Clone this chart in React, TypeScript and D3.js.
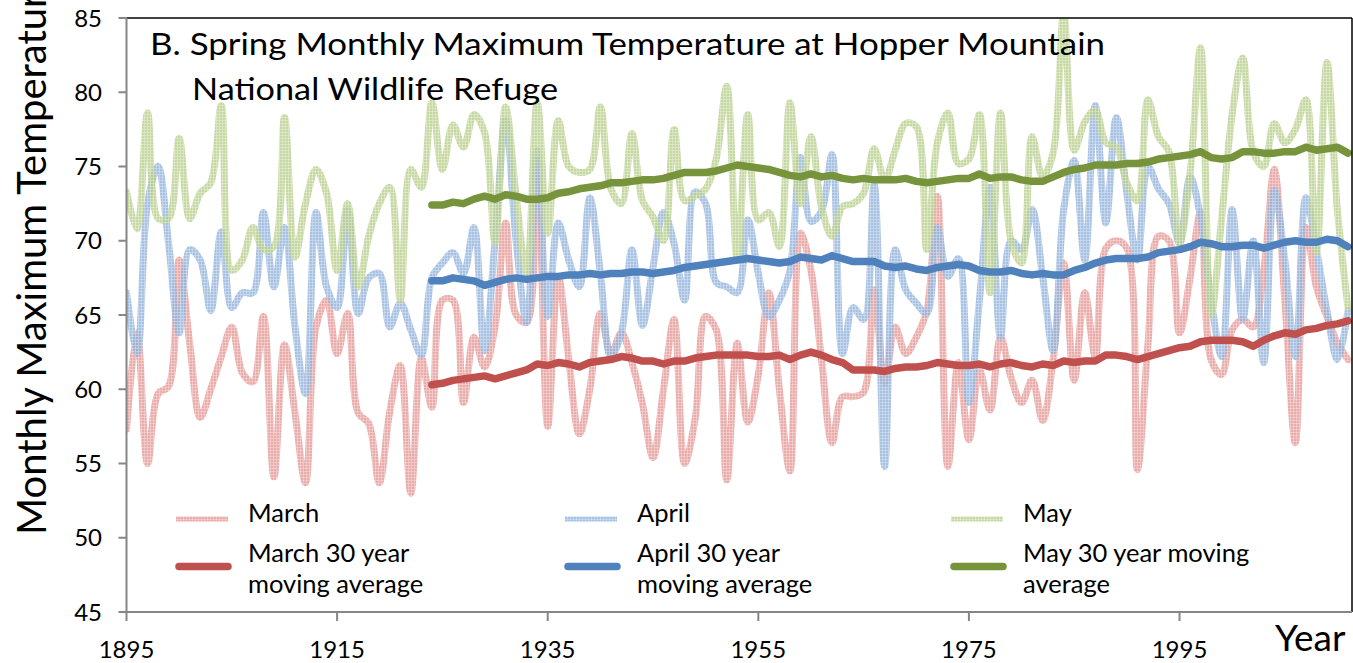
import React from "react";
import * as d3 from "d3";

// first year of the monthly series and of the 30 year moving averages
const firstYear = 1895;
const avgFirstYear = 1924;

const xTicks = [1895, 1915, 1935, 1955, 1975, 1995];
const yTicks = [45, 50, 55, 60, 65, 70, 75, 80, 85];

// monthly maximum temperature (F), 1895-2011
const march = [
  57.3, 63.8, 55.0, 59.7, 60.2, 68.7, 63.1, 58.1, 60.0, 62.2,
  64.2, 61.1, 60.5, 64.9, 54.1, 63.0, 58.4, 53.7, 64.2, 66.0,
  62.4, 65.1, 58.4, 57.7, 53.7, 58.5, 61.6, 53.0, 62.1, 58.8,
  66.0, 66.0, 59.1, 63.5, 61.5, 64.2, 71.2, 65.0, 64.5, 75.4,
  57.5, 67.6, 62.0, 57.0, 60.0, 65.1, 62.4, 63.8, 61.8, 59.0,
  55.4, 60.0, 64.7, 55.0, 58.0, 64.9, 64.0, 53.9, 63.1, 57.8,
  61.0, 66.5, 60.0, 54.5, 70.5, 68.0, 62.0, 56.4, 59.5, 59.5,
  59.8, 66.7, 60.4, 64.2, 62.4, 63.5, 65.3, 73.0, 54.8, 61.8,
  56.6, 61.3, 58.6, 63.5, 60.8, 59.1, 60.6, 57.9, 62.0, 68.5,
  60.6, 66.5, 62.2, 69.5, 70.0, 69.5, 54.6, 63.0, 70.3, 70.0,
  63.8, 67.5, 71.9, 62.0, 61.0, 64.0, 64.7, 64.2, 68.0, 74.8,
  66.0, 56.4, 70.9, 66.9, 64.9, 63.1, 62.0,
];
const april = [
  66.5, 62.4, 72.5, 75.0, 69.8, 63.8, 69.4, 68.7, 65.3, 70.6,
  65.5, 66.5, 66.5, 71.9, 66.9, 70.9, 64.2, 59.7, 71.9, 66.9,
  65.5, 72.1, 65.1, 67.5, 67.8, 64.2, 65.8, 64.0, 62.3, 67.5,
  68.5, 69.2, 67.8, 70.9, 62.6, 70.0, 78.1, 70.0, 64.5, 76.1,
  64.9, 71.2, 68.7, 66.9, 72.9, 67.8, 62.2, 63.8, 69.4, 64.3,
  68.2, 71.9, 69.8, 66.0, 73.3, 72.5, 67.2, 66.9, 66.5, 71.4,
  67.8, 64.9, 66.0, 68.0, 75.6, 71.3, 72.0, 75.8, 62.4, 65.5,
  64.7, 73.8, 54.8, 69.4, 66.7, 65.8, 65.1, 70.9, 67.6, 68.8,
  59.1, 66.0, 73.6, 63.5, 70.0, 69.4, 72.1, 67.6, 62.6, 72.1,
  75.4, 68.7, 79.1, 71.2, 78.3, 73.2, 68.7, 75.0, 73.5, 72.5,
  69.8, 74.3, 71.6, 66.0, 62.2, 72.1, 64.7, 70.0, 61.8, 73.4,
  68.7, 62.2, 72.9, 69.4, 65.3, 62.0, 65.3,
];
const may = [
  73.3, 70.8, 78.6, 71.5, 71.5, 76.9, 71.5, 73.2, 73.9, 79.1,
  68.0, 68.7, 70.9, 69.4, 69.6, 78.3, 68.9, 72.5, 74.8, 73.2,
  68.0, 72.5, 66.9, 70.3, 72.5, 73.6, 66.0, 74.8, 73.6, 79.3,
  74.8, 77.8, 76.3, 78.5, 77.3, 69.9, 79.0, 73.0, 67.8, 79.3,
  70.5, 78.1, 75.0, 74.6, 74.8, 79.0, 73.5, 72.5, 77.2, 72.7,
  71.6, 70.0, 77.5, 72.7, 73.0, 73.5, 75.5, 80.4, 68.7, 78.5,
  71.4, 71.9, 69.6, 79.3, 72.5, 77.0, 72.3, 70.3, 72.3, 72.5,
  73.2, 76.2, 74.1, 76.1, 77.9, 77.7, 69.4, 76.6, 78.6, 75.2,
  75.5, 78.5, 66.5, 78.6, 70.0, 68.5, 77.0, 74.3, 75.9, 85.3,
  76.1, 78.0, 78.8, 76.6, 76.3, 73.9, 72.7, 79.5, 77.0, 76.0,
  69.8, 74.5, 83.0, 65.0, 71.5, 78.5, 82.3, 76.0, 75.0, 77.9,
  76.6, 77.5, 79.5, 69.2, 82.0, 72.0, 65.5,
];

// 30 year moving averages, 1924-2011
const marchAvg = [
  60.3, 60.4, 60.6, 60.7, 60.8, 60.9, 60.7, 60.9, 61.1, 61.3,
  61.7, 61.6, 61.8, 61.7, 61.5, 61.8, 61.9, 62.0, 62.2, 62.1,
  61.9, 61.9, 61.7, 61.9, 61.9, 62.1, 62.2, 62.3, 62.3, 62.3,
  62.3, 62.2, 62.2, 62.3, 62.0, 62.3, 62.5, 62.3, 62.0, 61.8,
  61.3, 61.3, 61.3, 61.2, 61.4, 61.5, 61.5, 61.6, 61.8, 61.7,
  61.6, 61.6, 61.7, 61.5, 61.7, 61.8, 61.6, 61.5, 61.7, 61.6,
  61.9, 61.8, 61.9, 61.9, 62.3, 62.3, 62.2, 62.0, 62.2, 62.4,
  62.6, 62.8, 62.9, 63.2, 63.3, 63.3, 63.3, 63.2, 62.9, 63.3,
  63.6, 63.8, 63.7, 64.0, 64.1, 64.3, 64.4, 64.6,
];
const aprilAvg = [
  67.3, 67.3, 67.5, 67.4, 67.3, 67.0, 67.2, 67.4, 67.5, 67.4,
  67.5, 67.6, 67.6, 67.7, 67.7, 67.8, 67.7, 67.8, 67.8, 67.9,
  67.9, 67.8, 67.9, 68.0, 68.2, 68.3, 68.4, 68.5, 68.6, 68.7,
  68.8, 68.7, 68.6, 68.5, 68.6, 68.9, 68.8, 68.7, 69.0, 68.8,
  68.6, 68.6, 68.6, 68.3, 68.2, 68.3, 68.1, 68.0, 68.2, 68.3,
  68.4, 68.3, 68.0, 67.9, 67.9, 68.0, 67.8, 67.7, 67.8, 67.7,
  67.7, 68.0, 68.2, 68.5, 68.7, 68.8, 68.8, 68.8, 68.9, 69.2,
  69.3, 69.4, 69.6, 69.9, 69.8, 69.6, 69.6, 69.7, 69.7, 69.5,
  69.7, 69.9, 70.0, 69.9, 69.9, 70.1, 70.0, 69.6,
];
const mayAvg = [
  72.4, 72.4, 72.6, 72.5, 72.8, 73.0, 72.8, 73.1, 73.0, 72.8,
  72.8, 72.9, 73.2, 73.3, 73.5, 73.6, 73.7, 73.9, 73.9, 74.0,
  74.1, 74.1, 74.2, 74.4, 74.6, 74.6, 74.6, 74.7, 74.9, 75.1,
  75.0, 74.9, 74.8, 74.6, 74.4, 74.3, 74.5, 74.3, 74.4, 74.2,
  74.1, 74.2, 74.1, 74.1, 74.1, 74.2, 74.0, 73.9, 74.0, 74.1,
  74.2, 74.2, 74.5, 74.2, 74.3, 74.3, 74.1, 74.0, 74.0, 74.3,
  74.6, 74.8, 74.9, 75.1, 75.1, 75.1, 75.2, 75.2, 75.3, 75.5,
  75.6, 75.7, 75.8, 76.0, 75.6, 75.5, 75.6, 76.0, 76.0, 75.9,
  75.9, 76.0, 76.0, 76.3, 76.1, 76.2, 76.3, 75.9,
];

const font = "Lato, 'Open Sans', sans-serif";

const monthly = [
  { key: "mar", label: "March", data: march, base: "#e39a99", light: "#f4cccb" },
  { key: "apr", label: "April", data: april, base: "#93b3da", light: "#c9daee" },
  { key: "may", label: "May", data: may, base: "#b8cf8e", light: "#dfeaca" },
];
const averages = [
  { key: "mar", data: marchAvg, color: "#c0504d" },
  { key: "apr", data: aprilAvg, color: "#4f81bd" },
  { key: "may", data: mayAvg, color: "#77933c" },
];

export default function App() {
  const width = 1353, height = 663;
  const left = 126.5, right = 1352, top = 18, bottom = 612;

  const x = d3.scaleLinear().domain([1895, 2011]).range([left, 1348]);
  const y = d3.scaleLinear().domain([45, 85]).range([bottom, top]);

  const smooth = d3.line<number>()
    .x((d, i) => x(firstYear + i))
    .y((d) => y(d))
    .curve(d3.curveCatmullRom.alpha(0.5));

  const straight = d3.line<number>()
    .x((d, i) => x(avgFirstYear + i))
    .y((d) => y(d));

  const legendCols = [176, 565, 951];
  const legendText = [
    ["March", "March 30 year", "moving average"],
    ["April", "April 30 year", "moving average"],
    ["May", "May 30 year moving", "average"],
  ];

  return (
    <svg width={width} height={height} style={{ position: "absolute", left: 0, top: 0, background: "#fff" }}>
      <defs>
        <clipPath id="plot">
          <rect x={left} y={top} width={right - left} height={bottom - top} />
        </clipPath>
        {monthly.map((m) => (
          <pattern key={m.key} id={`pat-${m.key}`} width={3} height={3} patternUnits="userSpaceOnUse">
            <rect width={3} height={3} fill={m.base} />
            <rect width={3} height={1} fill={m.light} opacity={0.6} />
            <rect width={1} height={3} fill={m.light} opacity={0.6} />
          </pattern>
        ))}
      </defs>

      <g clipPath="url(#plot)">
        {monthly.map((m) => (
          <path key={m.key} d={smooth(m.data) || ""} fill="none" stroke={`url(#pat-${m.key})`}
            strokeWidth={7} strokeOpacity={0.82} strokeLinejoin="round" strokeLinecap="round" />
        ))}
        {averages.map((a) => (
          <path key={a.key} d={straight(a.data) || ""} fill="none" stroke={a.color}
            strokeWidth={7.5} strokeLinejoin="round" strokeLinecap="round" />
        ))}
      </g>

      {/* legend */}
      <rect x={165} y={497} width={1180} height={110} fill="#fff" />
      {legendCols.map((lx, i) => (
        <g key={i}>
          <line x1={lx} x2={lx + 52} y1={519} y2={519} stroke={`url(#pat-${monthly[i].key})`}
            strokeWidth={5} strokeOpacity={0.82} />
          <line x1={lx + 3} x2={lx + 52} y1={566.5} y2={566.5} stroke={averages[i].color}
            strokeWidth={7.5} strokeLinecap="round" />
          {legendText[i].map((t, j) => (
            <text key={j} x={lx + 72} y={[522, 562, 593][j]} fontFamily={font} fontSize={25.5} fill="#000">
              {t}
            </text>
          ))}
        </g>
      ))}

      {/* frame */}
      <line x1={left} x2={right} y1={top} y2={top} stroke="#000" strokeWidth={1.5} />
      <line x1={right} x2={right} y1={top} y2={bottom} stroke="#000" strokeWidth={1.5} />
      <line x1={left} x2={left} y1={top} y2={bottom + 0.5} stroke="#868686" strokeWidth={2} />
      <line x1={left} x2={right} y1={bottom} y2={bottom} stroke="#868686" strokeWidth={2} />

      {yTicks.map((t) => (
        <g key={t}>
          <line x1={left - 8} x2={left} y1={y(t)} y2={y(t)} stroke="#868686" strokeWidth={2} />
          <text x={102} y={y(t)} dy="0.36em" textAnchor="end" fontFamily={font} fontSize={24} fill="#000">{t}</text>
        </g>
      ))}
      {xTicks.map((t) => (
        <g key={t}>
          <line x1={x(t)} x2={x(t)} y1={bottom} y2={bottom + 9} stroke="#868686" strokeWidth={2} />
          <text x={x(t)} y={658} textAnchor="middle" fontFamily={font} fontSize={24} fill="#000">{t}</text>
        </g>
      ))}

      {/* titles */}
      <text x={150} y={55} fontFamily={font} fontSize={30} textLength={955} lengthAdjust="spacingAndGlyphs">
        B. Spring Monthly Maximum Temperature at Hopper Mountain
      </text>
      <text x={192} y={100} fontFamily={font} fontSize={30} textLength={366} lengthAdjust="spacingAndGlyphs">
        National Wildlife Refuge
      </text>
      <text transform="translate(46,535) rotate(-90)" fontFamily={font} fontSize={40}>
        Monthly Maximum Temperature
      </text>
      <text x={1275} y={651} fontFamily={font} fontSize={37}>Year</text>
    </svg>
  );
}
